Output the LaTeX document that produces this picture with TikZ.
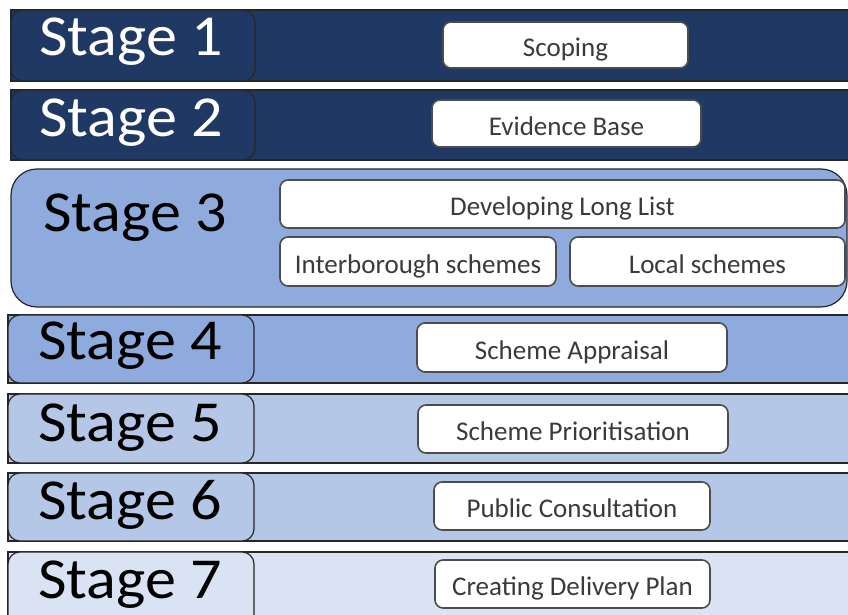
\documentclass[tikz,border=0pt]{standalone}
\usepackage{fontspec}
\setmainfont{Carlito}
\newfontfamily\stagefont[FakeStretch=1.07]{Carlito}
\usetikzlibrary{positioning}
\definecolor{navy}{HTML}{1F3864}
\definecolor{midblue}{HTML}{8FAADC}
\definecolor{paleblue}{HTML}{B4C7E7}
\definecolor{mistblue}{HTML}{DAE3F3}
\definecolor{boxtext}{HTML}{3A3A3A}
\tikzset{
  band/.style={draw=black!85, line width=0.6pt},
  stagebox/.style={draw=black!85, line width=0.6pt, rounded corners=6pt},
  stagetext/.style={font=\stagefont\fontsize{29}{35}\selectfont, anchor=base, inner sep=0pt},
  taskbox/.style={draw=black!70, line width=0.8pt, fill=white, rounded corners=4pt,
    font=\fontsize{13.5}{16}\selectfont, text=boxtext, inner sep=0pt,
    text height=12.5pt, text depth=0.7pt},
}
\begin{document}
\begin{tikzpicture}[x=0.5pt,y=-0.5pt]
  \useasboundingbox (0,0) rectangle (848,615);
  % Stage 1
  \draw [band,fill=navy] (11,10) rectangle (870,81) ;
  \draw [stagebox,fill=navy] (11,10) rectangle (255,81) ;
  \node at (131,56) [stagetext,text=white] (nstage1) {Stage 1};
  \node at (565.5,45) [taskbox,minimum width=122.5pt,minimum height=23pt] (nscoping) {Scoping};
  % Stage 2
  \draw [band,fill=navy] (11,90) rectangle (870,160) ;
  \draw [stagebox,fill=navy] (11,90) rectangle (255,160) ;
  \node at (131,137) [stagetext,text=white] (nstage2) {Stage 2};
  \node at (566.5,123.5) [taskbox,minimum width=134.5pt,minimum height=23.5pt] (nevidence) {Evidence Base};
  % Stage 3
  \draw [band,fill=midblue,rounded corners=13pt] (11,169) rectangle (847,307) ;
  \node at (135,232) [stagetext] (nstage3) {Stage 3};
  \node at (562.5,204) [taskbox,minimum width=282.5pt,minimum height=24pt] (nlonglist) {Developing Long List};
  \node at (418,261.5) [taskbox,minimum width=138pt,minimum height=24.5pt] (ninterboro) {Interborough schemes};
  \node at (707.5,261.5) [taskbox,minimum width=137.5pt,minimum height=24.5pt] (nlocal) {Local schemes};
  % Stage 4
  \draw [band,fill=midblue] (8,315) rectangle (870,383) ;
  \draw [stagebox,fill=midblue] (8,315) rectangle (254,383) ;
  \node at (130,360) [stagetext] (nstage4) {Stage 4};
  \node at (572,347.5) [taskbox,minimum width=155pt,minimum height=24.5pt] (nappraisal) {Scheme Appraisal};
  % Stage 5
  \draw [band,fill=paleblue] (8,394) rectangle (870,463) ;
  \draw [stagebox,fill=paleblue] (8,394) rectangle (254,463) ;
  \node at (130,442) [stagetext] (nstage5) {Stage 5};
  \node at (573,429) [taskbox,minimum width=155pt,minimum height=24pt] (npriority) {Scheme Prioritisation};
  % Stage 6
  \draw [band,fill=paleblue] (8,473) rectangle (870,541) ;
  \draw [stagebox,fill=paleblue] (8,473) rectangle (254,541) ;
  \node at (130,520) [stagetext] (nstage6) {Stage 6};
  \node at (572,506) [taskbox,minimum width=138pt,minimum height=24pt] (nconsult) {Public Consultation};
  % Stage 7
  \draw [band,fill=mistblue] (8,552) rectangle (870,640) ;
  \draw [stagebox,fill=mistblue] (8,552) rectangle (254,640) ;
  \node at (130,598) [stagetext] (nstage7) {Stage 7};
  \node at (572.5,584) [taskbox,minimum width=137.5pt,minimum height=24pt] (ndelivery) {Creating Delivery Plan};
\end{tikzpicture}
\end{document}
